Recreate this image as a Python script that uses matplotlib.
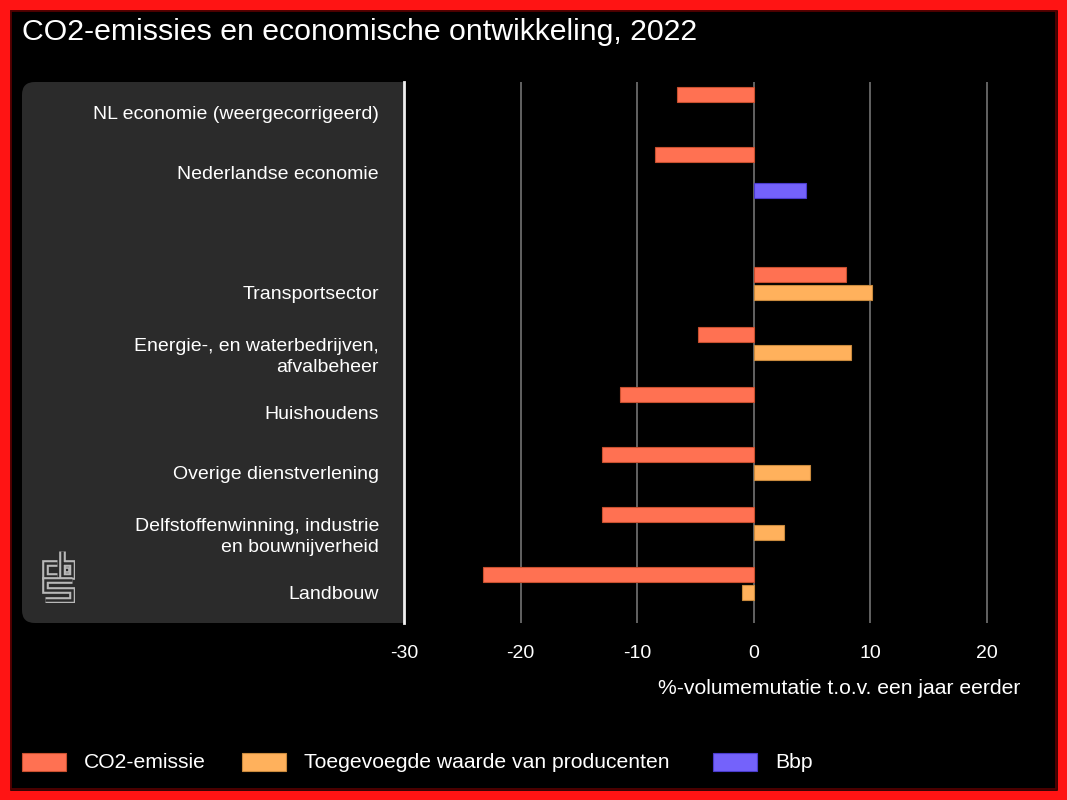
import matplotlib
matplotlib.use("Agg")
import matplotlib.pyplot as plt
import numpy as np
from matplotlib.patches import FancyBboxPatch, Rectangle

plt.rcParams['font.family'] = ['Liberation Sans', 'DejaVu Sans']

# ---- data ----
categories = [
    "NL economie (weergecorrigeerd)",
    "Nederlandse economie",
    "",
    "Transportsector",
    "Energie-, en waterbedrijven,\nafvalbeheer",
    "Huishoudens",
    "Overige dienstverlening",
    "Delfstoffenwinning, industrie\nen bouwnijverheid",
    "Landbouw",
]
series_names = ["CO2-emissie", "Toegevoegde waarde van producenten", "Bbp"]
co2 = [-6.6, -8.5, np.nan, 7.9, -4.8, -11.5, -13.0, -13.0, -23.2]
toegevoegd = [np.nan, np.nan, np.nan, 10.1, 8.3, np.nan, 4.8, 2.6, -1.0]
bbp = [np.nan, 4.5, np.nan, np.nan, np.nan, np.nan, np.nan, np.nan, np.nan]
x_ticks = [-30, -20, -10, 0, 10, 20]

colors = ["#ff7152", "#ffb15c", "#7462fb"]
edges = ["#c9502f", "#c98a3d", "#4a3ccc"]

W, H = 1067, 800
fig = plt.figure(figsize=(W / 100, H / 100), dpi=100, facecolor="black")

def fx(px):
    return px / W

def fy(py):
    return 1 - py / H

# frame
fig.patches.append(Rectangle((0, 0), 1, 1, transform=fig.transFigure,
                             facecolor="none", edgecolor="#ff1414", linewidth=14, zorder=10))
fig.patches.append(Rectangle((fx(11), fy(789)), fx(1045), 778 / H, transform=fig.transFigure,
                             facecolor="none", edgecolor="#5a0000", linewidth=1.2, zorder=10))

# left panel
panel = FancyBboxPatch((fx(22), fy(623)), fx(404 - 22 + 10), 541 / H,
                       boxstyle="round,pad=0,rounding_size=0.012",
                       transform=fig.transFigure, facecolor="#2b2b2b", edgecolor="none",
                       mutation_aspect=W / H, zorder=-1)
fig.patches.append(panel)

ax = fig.add_axes([fx(404), fy(623), fx(1022 - 404), 541 / H])
ax.set_facecolor("black")

y = np.arange(len(categories))
off = 0.3
bh = 0.25
for vals, dy, c, e, name in zip([co2, toegevoegd, bbp], [-off, 0, off], colors, edges, series_names):
    ax.barh(y + dy, vals, height=bh, color=c, edgecolor=e, linewidth=0.8, zorder=3, label=name)

ax.set_xlim(-30, 23)
ax.set_ylim(len(categories) - 0.5, -0.5)
ax.set_xticks(x_ticks)
ax.set_xticklabels([str(t) for t in x_ticks])
ax.xaxis.grid(True, color="#6a6a6a", linewidth=1.3, zorder=1)
ax.set_axisbelow(True)
ax.set_yticks(y)
ax.set_yticklabels(categories, linespacing=1.35)
ax.tick_params(axis="y", length=0, pad=18, labelsize=14, labelcolor="white")
ax.tick_params(axis="x", length=0, pad=16, labelsize=14, labelcolor="white")
for s in ["top", "right", "bottom"]:
    ax.spines[s].set_visible(False)
ax.spines["left"].set_color("#f0f0f0")
ax.spines["left"].set_linewidth(2)
ax.spines["left"].set_zorder(5)

# title & axis label
fig.text(fx(22), fy(32), "CO2-emissies en economische ontwikkeling, 2022",
         color="white", fontsize=21.8, ha="left", va="center")
fig.text(fx(1020), fy(688), "%-volumemutatie t.o.v. een jaar eerder",
         color="white", fontsize=15.2, ha="right", va="center")

# legend
leg_x = [22, 242, 713]
for px, c, e, name in zip(leg_x, colors, edges, series_names):
    fig.patches.append(Rectangle((fx(px), fy(771)), fx(44), 18 / H, transform=fig.transFigure,
                                 facecolor=c, edgecolor=e, linewidth=0.8))
    fig.text(fx(px + 62), fy(762), name, color="white", fontsize=15.2, ha="left", va="center")

# cbs logo
lax = fig.add_axes([fx(41), fy(603), fx(34), 54 / H])
lax.set_xlim(0, 34)
lax.set_ylim(54, 0)
lax.axis("off")
paths = [
    [(16, 14), (3.5, 14), (3.5, 27), (16, 27)],
    [(21, 1.5), (21, 27), (31, 27), (31, 14), (21, 14)],
    [(31, 31), (3.5, 31), (3.5, 41), (31, 41), (31, 51), (3.5, 51)],
]
for p in paths:
    xs, ys = zip(*p)
    lax.plot(xs, ys, color="#b8b8b8", linewidth=4.8, solid_joinstyle="miter", solid_capstyle="butt")
    lax.plot(xs, ys, color="#2b2b2b", linewidth=1.8, solid_joinstyle="miter", solid_capstyle="butt")
lax.plot([26], [20.5], marker="s", markersize=3, markerfacecolor="none",
         markeredgecolor="#b8b8b8", markeredgewidth=1.2)

fig.savefig("out.png", dpi=100, facecolor="black")
